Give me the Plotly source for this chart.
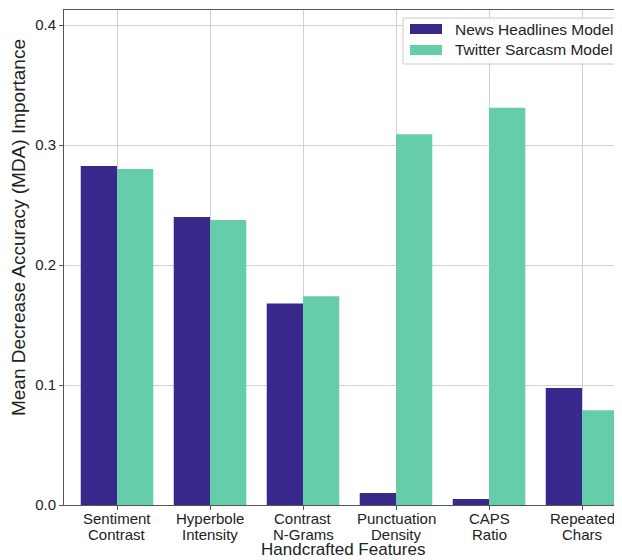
import plotly.graph_objects as go

category_lines = [("Sentiment", "Contrast"), ("Hyperbole", "Intensity"), ("Contrast", "N-Grams"),
                  ("Punctuation", "Density"), ("CAPS", "Ratio"), ("Repeated", "Chars")]
series_names = ["News Headlines Model", "Twitter Sarcasm Model"]
news_values = [0.2825, 0.240, 0.168, 0.010, 0.005, 0.0975]
twitter_values = [0.280, 0.2375, 0.174, 0.309, 0.331, 0.079]
y_ticks = [0.0, 0.1, 0.2, 0.3, 0.4]
x_title = "Handcrafted Features"
y_title = "Mean Decrease Accuracy (MDA) Importance"

font = "Liberation Sans, Arial, Helvetica, sans-serif"
colors = ["#38288c", "#66cdaa"]
txt = "#222222"

xpos = list(range(len(category_lines)))
fig = go.Figure()
fig.add_trace(go.Bar(x=xpos, y=news_values, name=series_names[0],
                     marker=dict(color=colors[0], line=dict(width=0)), offset=-0.39, width=0.39))
fig.add_trace(go.Bar(x=xpos, y=twitter_values, name=series_names[1],
                     marker=dict(color=colors[1], line=dict(width=0)), offset=0.0, width=0.39))

# custom matplotlib-like legend (paper coordinates)
shapes = [dict(type="rect", xref="paper", yref="paper", x0=0.6075, x1=0.9964, y0=0.8909, y1=0.9838,
               fillcolor="rgba(255,255,255,0.85)", line=dict(color="#cccccc", width=1), layer="above")]
annotations = []
rows = [(0.9717, 0.9515, 0.9616), (0.9293, 0.9091, 0.9192)]
for (y1, y0, yc), name, col in zip(rows, series_names, colors):
    shapes.append(dict(type="rect", xref="paper", yref="paper", x0=0.6201, x1=0.6774, y0=y0, y1=y1,
                       fillcolor=col, line=dict(width=0), layer="above"))
    annotations.append(dict(xref="paper", yref="paper", x=0.6971, y=yc, xanchor="left", yanchor="middle",
                            text=name, showarrow=False, font=dict(size=15.5, family=font, color=txt)))

# two-line category tick labels with tight line spacing
for i, (l1, l2) in zip(xpos, category_lines):
    annotations.append(dict(xref="x", yref="paper", x=i, y=-0.0263, xanchor="center", yanchor="middle",
                            text=l1, showarrow=False, font=dict(size=15, family=font, color=txt)))
    annotations.append(dict(xref="x", yref="paper", x=i, y=-0.0586, xanchor="center", yanchor="middle",
                            text=l2, showarrow=False, font=dict(size=15, family=font, color=txt)))

annotations.append(dict(xref="paper", yref="paper", x=0.5, y=-0.0909, xanchor="center", yanchor="middle",
                        text=x_title, showarrow=False, font=dict(size=17, family=font, color=txt)))
annotations.append(dict(xref="paper", yref="paper", x=-0.0806, y=0.5596, xanchor="center", yanchor="middle",
                        textangle=-90, text=y_title, showarrow=False,
                        font=dict(size=19, family=font, color=txt)))

fig.update_layout(
    width=614, height=552,
    margin=dict(l=56, r=0, t=2, b=55),
    plot_bgcolor="white", paper_bgcolor="white",
    font=dict(family=font, size=15, color=txt),
    barmode="overlay",
    showlegend=False,
    shapes=shapes,
    annotations=annotations,
    xaxis=dict(
        range=[-0.57, 5.43],
        tickmode="array", tickvals=xpos, showticklabels=False,
        showgrid=True, gridcolor="#d0d0d0", gridwidth=1,
        showline=True, linecolor="#555", linewidth=1, mirror=True,
        ticks="outside", ticklen=4, tickcolor="#555",
        zeroline=False,
    ),
    yaxis=dict(
        range=[0, 0.4125],
        tickmode="array", tickvals=y_ticks, ticktext=[f"{v:.1f}" for v in y_ticks],
        showgrid=True, gridcolor="#d0d0d0", gridwidth=1,
        showline=True, linecolor="#555", linewidth=1, mirror=False,
        ticks="outside", ticklen=4, tickcolor="#555",
        tickfont=dict(size=15, family=font, color=txt),
        zeroline=False,
    ),
)

fig.write_html("out.html")
